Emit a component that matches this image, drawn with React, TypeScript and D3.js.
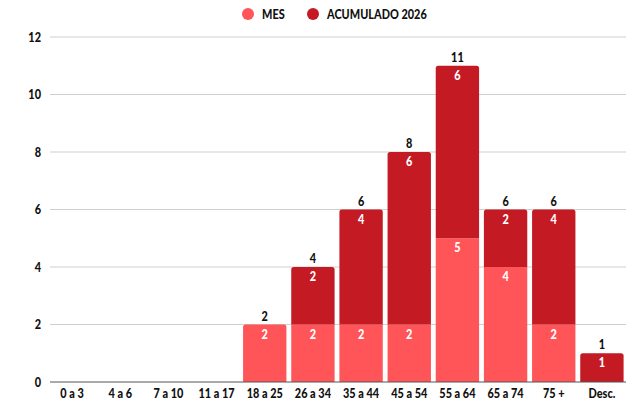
import React from "react";
import * as d3 from "d3";

const categories = ["0 a 3", "4 a 6", "7 a 10", "11 a 17", "18 a 25", "26 a 34", "35 a 44", "45 a 54", "55 a 64", "65 a 74", "75 +", "Desc."];
const mes = [0, 0, 0, 0, 2, 2, 2, 2, 5, 4, 2, 0];
const acumulado = [0, 0, 0, 0, 0, 2, 4, 6, 6, 2, 4, 1];
const yTicks = [0, 2, 4, 6, 8, 10, 12];
const seriesNames = ["MES", "ACUMULADO 2026"];
const colors = ["#ff5558", "#c41a24"];

const width = 632;
const height = 401;
const margin = { top: 37, right: 6, bottom: 19, left: 48 };
const font = "Lato, 'Noto Sans', sans-serif";
const fs = 13;
const squeeze = 0.84; // reference font is a condensed sans

function Label(props: { x: number; y: number; anchor?: string; fill?: string; dy?: string; children: any }) {
  return (
    <g transform={`translate(${props.x},${props.y}) scale(${squeeze},1)`}>
      <text
        textAnchor={props.anchor || "start"}
        dy={props.dy}
        fontSize={fs}
        fontWeight={900}
        fill={props.fill || "#111"}
      >
        {props.children}
      </text>
    </g>
  );
}

function topRounded(x: number, y: number, w: number, h: number, r: number) {
  const rr = Math.min(r, h / 2, w / 2);
  return `M${x},${y + h}V${y + rr}Q${x},${y} ${x + rr},${y}H${x + w - rr}Q${x + w},${y} ${x + w},${y + rr}V${y + h}Z`;
}

export default function App() {
  const x = d3
    .scaleBand()
    .domain(categories)
    .range([margin.left, width - margin.right])
    .paddingInner(0.1)
    .paddingOuter(0.05);
  const y = d3
    .scaleLinear()
    .domain([0, 12])
    .range([height - margin.bottom, margin.top]);

  const stacked = d3
    .stack<number>()
    .keys([0, 1] as any)
    .value((i: number, k: any) => (k === 0 ? mes[i] : acumulado[i]))(categories.map((_, i) => i));

  const bw = x.bandwidth();

  return (
    <svg width={width} height={height} style={{ position: "absolute", left: 0, top: 0 }} fontFamily={font}>
      {/* legend */}
      <circle cx={248} cy={14} r={6} fill={colors[0]} />
      <Label x={262} y={18.5}>{seriesNames[0]}</Label>
      <circle cx={313} cy={14} r={6} fill={colors[1]} />
      <Label x={327} y={18.5}>{seriesNames[1]}</Label>

      {/* grid + y labels */}
      {yTicks.map((t) => (
        <g key={t}>
          {t !== 0 && <line x1={margin.left + 2} x2={width - margin.right} y1={y(t)} y2={y(t)} stroke="#cfcfcf" strokeWidth={1} />}
          <Label x={41} y={y(t)} dy="0.36em" anchor="end">
            {t}
          </Label>
        </g>
      ))}

      {/* bars */}
      {categories.map((c, i) => {
        const total = mes[i] + acumulado[i];
        const topIdx = acumulado[i] > 0 ? 1 : 0;
        return (
          <g key={c}>
            {stacked.map((s, k) => {
              const [y0, y1] = s[i];
              if (y1 - y0 <= 0) return null;
              const top = y(y1);
              const h = y(y0) - y(y1);
              const bx = x(c)!;
              return (
                <g key={k}>
                  {k === topIdx ? (
                    <path d={topRounded(bx, top, bw, h, 2.5)} fill={colors[k]} />
                  ) : (
                    <rect x={bx} y={top} width={bw} height={h} fill={colors[k]} />
                  )}
                  <Label x={bx + bw / 2} y={top + 14} anchor="middle" fill="#fff">
                    {y1 - y0}
                  </Label>
                </g>
              );
            })}
            {total > 0 && (
              <Label x={x(c)! + bw / 2} y={y(total) - 4} anchor="middle">
                {total}
              </Label>
            )}
          </g>
        );
      })}

      {/* x axis */}
      <line x1={margin.left + 2} x2={width - margin.right} y1={y(0)} y2={y(0)} stroke="#555" strokeWidth={1} />
      {categories.map((c) => (
        <Label key={c} x={x(c)! + bw / 2} y={397.5} anchor="middle">
          {c}
        </Label>
      ))}
    </svg>
  );
}
